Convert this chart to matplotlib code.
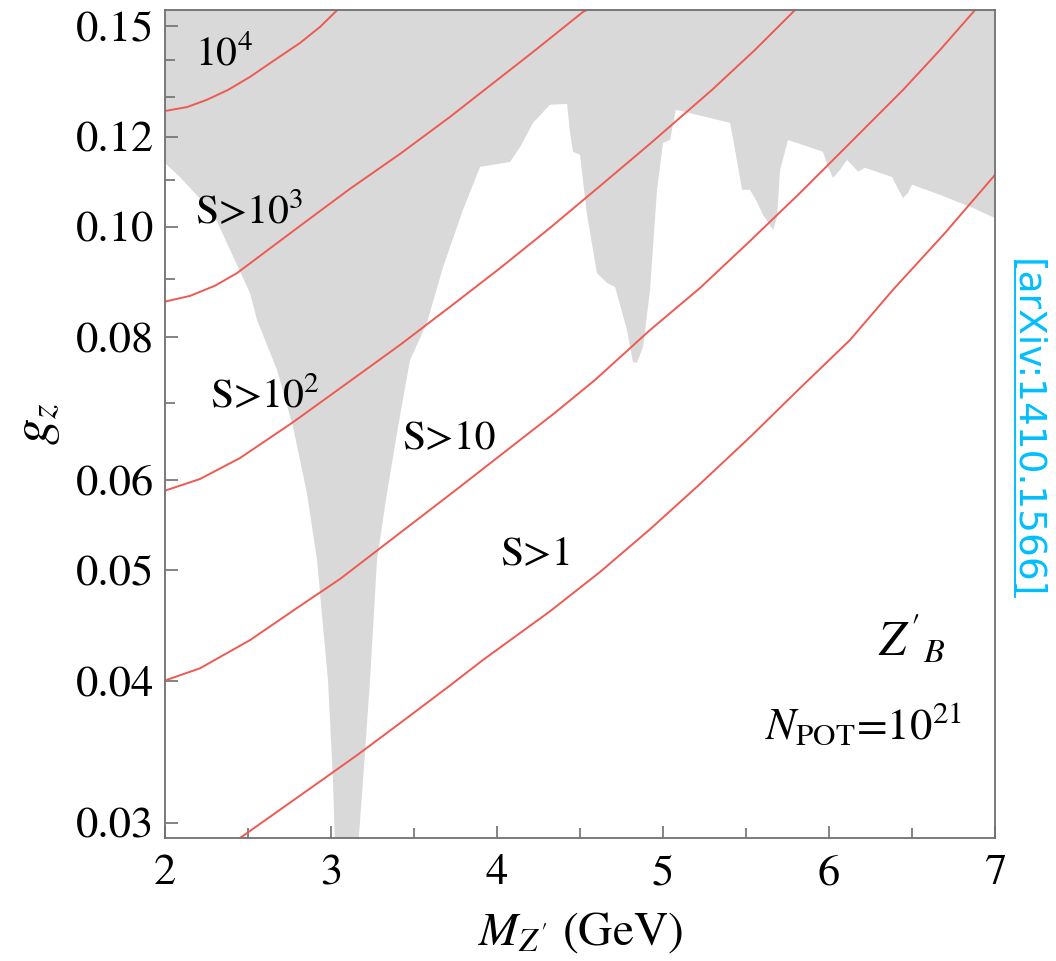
import numpy as np
import matplotlib
matplotlib.use("Agg")
import matplotlib.pyplot as plt
from matplotlib.ticker import FixedLocator, FixedFormatter, NullFormatter
from matplotlib.lines import Line2D

plt.rcParams['font.family'] = 'STIXGeneral'
plt.rcParams['mathtext.fontset'] = 'stix'

# excluded region boundary (gray above this line)
bound_m = [2.000, 2.090, 2.289, 2.512, 2.554, 2.675, 2.771, 2.855, 2.916, 2.952, 2.982, 3.012, 3.024,
           3.163, 3.193, 3.235, 3.277, 3.337, 3.404, 3.476, 3.578, 3.675, 3.795, 3.898, 4.078, 4.139,
           4.217, 4.319, 4.422, 4.440, 4.458, 4.500, 4.542, 4.602, 4.663, 4.711, 4.783, 4.819, 4.843,
           4.880, 4.922, 4.964, 5.000, 5.042, 5.078, 5.404, 5.434, 5.476, 5.524, 5.566, 5.602, 5.663,
           5.687, 5.705, 5.753, 5.964, 5.994, 6.024, 6.066, 6.108, 6.139, 6.175, 6.217, 6.380, 6.410,
           6.446, 6.476, 6.500, 6.669, 6.867, 7.000]
bound_g = [0.1138, 0.1106, 0.1029, 0.0875, 0.0829, 0.0749, 0.0668, 0.0584, 0.0510, 0.0446, 0.0400, 0.0327, 0.0285,
           0.0285, 0.0327, 0.0400, 0.0510, 0.0584, 0.0668, 0.0764, 0.0824, 0.0922, 0.1035, 0.1129, 0.1140, 0.1175,
           0.1234, 0.1280, 0.1282, 0.1209, 0.1164, 0.1157, 0.1025, 0.0911, 0.0893, 0.0886, 0.0812, 0.0761, 0.0760,
           0.0785, 0.0881, 0.1078, 0.1185, 0.1192, 0.1267, 0.1234, 0.1168, 0.1078, 0.1078, 0.1052, 0.1025, 0.0994,
           0.1020, 0.1122, 0.1192, 0.1164, 0.1129, 0.1104, 0.1122, 0.1145, 0.1133, 0.1118, 0.1127, 0.1106, 0.1084,
           0.1060, 0.1071, 0.1089, 0.1067, 0.1039, 0.1018]

# signal contours, S > 10^4 ... S > 1
s4_m = [2.000, 2.133, 2.253, 2.380, 2.512, 2.645, 2.813, 2.934, 3.042, 3.100]
s4_g = [0.1264, 0.1274, 0.1293, 0.1319, 0.1354, 0.1396, 0.1450, 0.1498, 0.1552, 0.1580]
s3_m = [2.000, 2.151, 2.301, 2.434, 2.813, 3.114, 3.416, 3.717, 3.916, 4.217, 4.518, 4.560]
s3_g = [0.0860, 0.0870, 0.0888, 0.0911, 0.1002, 0.1080, 0.1159, 0.1249, 0.1316, 0.1424, 0.1544, 0.1555]
s2_m = [2.000, 2.211, 2.452, 2.771, 3.084, 3.416, 3.717, 4.018, 4.319, 4.620, 4.922, 5.295, 5.554,
        5.795, 5.825]
s2_g = [0.0587, 0.0601, 0.0627, 0.0674, 0.0727, 0.0788, 0.0851, 0.0920, 0.0998, 0.1086, 0.1183, 0.1319, 0.1430,
        0.1550, 0.1566]
s1_m = [2.000, 2.211, 2.512, 2.813, 3.054, 3.416, 3.747, 4.078, 4.349, 4.590, 4.922, 5.223, 5.524, 5.825,
        6.127, 6.446, 6.669, 6.880, 6.910]
s1_g = [0.0400, 0.0410, 0.0434, 0.0465, 0.0491, 0.0539, 0.0587, 0.0640, 0.0687, 0.0734, 0.0812, 0.0884, 0.0972,
        0.1071, 0.1185, 0.1319, 0.1430, 0.1550, 0.1580]
s0_m = [2.392, 2.452, 2.813, 3.157, 3.416, 3.717, 3.916, 4.319, 4.620, 4.922, 5.223, 5.524, 5.825, 6.127,
        6.386, 6.699, 7.000]
s0_g = [0.0287, 0.0291, 0.0317, 0.0344, 0.0367, 0.0396, 0.0417, 0.0460, 0.0498, 0.0543, 0.0595, 0.0654, 0.0722,
        0.0796, 0.0881, 0.0988, 0.1111]

y_major = [0.03, 0.04, 0.05, 0.06, 0.08, 0.10, 0.12, 0.15]
y_labels = ['0.03', '0.04', '0.05', '0.06', '0.08', '0.10', '0.12', '0.15']
y_minor = [0.07, 0.09, 0.11, 0.13, 0.14]
x_major = [2, 3, 4, 5, 6, 7]
x_minor = [2.5, 3.5, 4.5, 5.5, 6.5]

fig = plt.figure(figsize=(10.56, 9.61), dpi=100)
ax = fig.add_axes([0.15625, 0.128, 0.786, 0.8616])

ax.fill_between(bound_m, bound_g, 1.0, color='#d9d9d9', lw=0)
red = '#ee5a52'
for m, g in [(s4_m, s4_g), (s3_m, s3_g), (s2_m, s2_g), (s1_m, s1_g), (s0_m, s0_g)]:
    ax.plot(m, g, color=red, lw=1.4, solid_joinstyle='round')

ax.set_yscale('log')
ax.set_xlim(2, 7)
ax.set_ylim(0.0291, 0.155)

ax.yaxis.set_major_locator(FixedLocator(y_major))
ax.yaxis.set_major_formatter(FixedFormatter(y_labels))
ax.yaxis.set_minor_locator(FixedLocator(y_minor))
ax.yaxis.set_minor_formatter(NullFormatter())
ax.xaxis.set_major_locator(FixedLocator(x_major))
ax.xaxis.set_minor_locator(FixedLocator(x_minor))

frame = '#707070'
for sp in ax.spines.values():
    sp.set_color(frame)
    sp.set_linewidth(1.3)
ax.tick_params(which='both', direction='in', color=frame, width=1.2, top=False, right=False,
               labelsize=32)
ax.tick_params(which='major', length=9)
ax.tick_params(axis='x', which='major', pad=12)
ax.tick_params(axis='y', which='major', pad=8)
ax.tick_params(which='minor', length=7)

ax.set_xlabel(r"$M_{Z'}$ (GeV)", fontsize=34, labelpad=12)
ax.set_ylabel(r"$g_z$", fontsize=38, labelpad=10)

fs = 30
ax.text(2.18, 0.1416, r"10$^4$", fontsize=fs, va='center')
ax.text(2.18, 0.1029, r"S>10$^3$", fontsize=fs, va='center')
ax.text(2.27, 0.0709, r"S>10$^2$", fontsize=fs, va='center')
ax.text(3.43, 0.0651, "S>10", fontsize=fs, va='center')
ax.text(4.02, 0.0515, "S>1", fontsize=fs, va='center')
ax.text(6.70, 0.0434, r"$Z'_B$", fontsize=35, va='center', ha='right')
ax.text(6.80, 0.0366, r"$N_{\rm POT}$=10$^{21}$", fontsize=32, va='center', ha='right')

cyan = '#00bfff'
t = fig.text(0.9725, 0.5536, "[arXiv:1410.1566]", rotation=-90, color=cyan,
             fontsize=27, family='DejaVu Sans', ha='center', va='center')
fig.canvas.draw()
bb = t.get_window_extent().transformed(fig.transFigure.inverted())
ux = bb.x0 + 0.17 * bb.width
fig.add_artist(Line2D([ux, ux], [bb.y0 + 0.002, bb.y1 - 0.002], color=cyan, lw=1.4,
                      transform=fig.transFigure))

fig.savefig("out.png", dpi=100)
